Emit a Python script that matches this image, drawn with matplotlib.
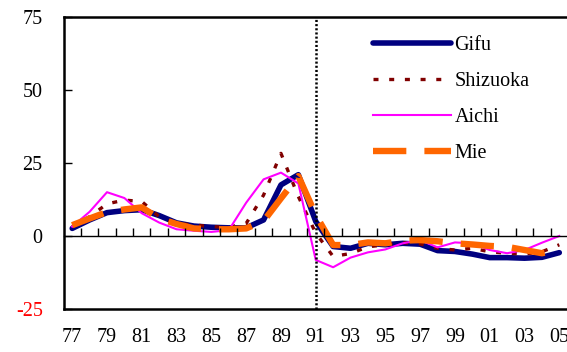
import matplotlib
matplotlib.use("Agg")
import matplotlib.pyplot as plt

plt.rcParams['font.family'] = ['Liberation Serif', 'DejaVu Serif']
plt.rcParams['font.size'] = 14.5
plt.rcParams['lines.scale_dashes'] = False

# years 1977 - 2005, labelled by two digits
years = ['77', '78', '79', '80', '81', '82', '83', '84', '85', '86',
         '87', '88', '89', '90', '91', '92', '93', '94', '95', '96',
         '97', '98', '99', '00', '01', '02', '03', '04', '05']

gifu = [2.6, 5.5, 8.0, 8.7, 9.0, 7.0, 4.5, 3.4, 3.0, 2.8,
        2.8, 5.5, 17.5, 21.0, 5.0, -3.6, -4.2, -2.5, -3.0, -2.5,
        -2.8, -5.0, -5.3, -6.2, -7.4, -7.4, -7.6, -7.3, -5.7]
shizuoka = [3.2, 6.6, 11.0, 12.3, 11.8, 6.6, 4.3, 3.8, 3.2, 3.0,
            4.3, 14.0, 28.3, 13.5, 1.0, -7.0, -6.0, -3.7, -3.0, -2.3,
            -2.7, -4.2, -4.8, -4.2, -5.4, -5.9, -6.2, -5.4, -3.0]
aichi = [3.2, 8.3, 15.0, 13.0, 7.8, 4.6, 2.3, 1.8, 1.4, 2.0,
         11.4, 19.4, 21.7, 18.0, -8.2, -10.7, -7.4, -5.6, -4.6, -2.5,
         -1.4, -3.9, -2.2, -2.5, -4.8, -5.9, -4.8, -2.3, 0.0]
mie = [3.7, 6.0, 8.2, 9.1, 9.8, 6.0, 4.1, 2.6, 2.3, 2.3,
       2.6, 5.1, 12.9, 20.5, 7.2, -3.1, -3.1, -2.2, -2.5, -1.6,
       -1.4, -1.8, -2.5, -2.9, -3.4, -3.7, -4.8, -5.9, -4.6]

yticks = [-25, 0, 25, 50, 75]
break_year = '91'

W, H = 567, 352
fig = plt.figure(figsize=(W / 100, H / 100), dpi=100)
left, right, top, bottom = 63.5, 568, 17, 309
ax = fig.add_axes([left / W, 1 - bottom / H, (right - left) / W, (bottom - top) / H])

x = list(range(len(years)))
ax.plot(x, gifu, color='#000080', lw=4, solid_capstyle='round', label='Gifu', zorder=3)
ax.plot(x, shizuoka, color='#800000', lw=2.4, dashes=(3.6, 7.7), label='Shizuoka', zorder=4)
ax.plot(x, aichi, color='#FF00FF', lw=1.5, label='Aichi', zorder=5)
ax.plot(x, mie, color='#FF6600', lw=4.6, dashes=(24, 13), dash_capstyle='butt', label='Mie', zorder=6)

ax.axvline(years.index(break_year), color='black', lw=1.8, dashes=(1.5, 1.5), zorder=7)

ax.set_xlim(-0.5, len(years) - 0.5)
ax.set_ylim(-25, 75)

# frame
for side in ['left', 'top', 'bottom']:
    ax.spines[side].set_linewidth(1.8)
ax.spines['right'].set_visible(False)

ax.set_yticks(yticks)
ax.set_yticklabels([str(v) for v in yticks])
ax.tick_params(axis='y', direction='in', length=5.5, width=1, pad=15)
ax.get_yticklabels()[0].set_color('red')

ax.set_xticks(x[::2])
ax.set_xticklabels(years[::2])
ax.tick_params(axis='x', length=0, pad=14)

# zero line with category ticks
ax2 = ax.twiny()
ax2.set_xlim(ax.get_xlim())
for side in ['left', 'top', 'right']:
    ax2.spines[side].set_visible(False)
ax2.spines['bottom'].set_position(('data', 0))
ax2.spines['bottom'].set_linewidth(1)
ax2.xaxis.set_ticks_position('bottom')
ax2.set_xticks([i + 0.5 for i in x[:-1]])
ax2.set_xticklabels([])
ax2.tick_params(axis='x', direction='in', length=5.5, width=1)

leg = ax.legend(loc='upper left', bbox_to_anchor=(0.613, 0.936), frameon=False,
                borderpad=0, borderaxespad=0, handlelength=3.9, handletextpad=0.15,
                labelspacing=0.85, fontsize=14.5)
leg.set_zorder(10)

fig.savefig('out.png', dpi=100)
